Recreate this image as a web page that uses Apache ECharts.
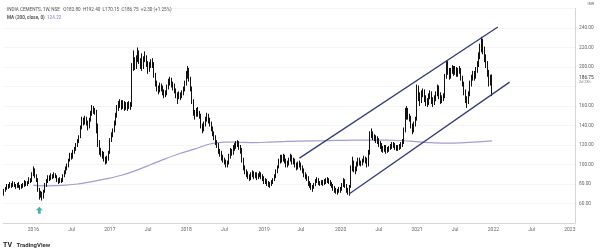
<!DOCTYPE html>
<html><head><meta charset="utf-8">
<script src="https://cdn.jsdelivr.net/npm/echarts@6/dist/echarts.min.js"></script>
<style>html,body{margin:0;padding:0;background:#fff}#c{width:602px;height:250px}</style>
</head><body><div id="c"></div>
<script>
// weekly candles [open, close, low, high], first week starts Monday 2015-08-17
const startMonday = '2015-08-17';
const totalWeeks = 389; // axis runs on past the last candle (right margin)
const xTickLabels = ['2016','Jul','2017','Jul','2018','Jul','2019','Jul','2020','Jul','2021','Jul','2022','Jul','2023'];

const w2015 = [
[70,73,68,75],[73,75,72,77],[75,78,74,80],[78,77,75,80],[77,80,76,82],
[80,78,76,81],[78,81,77,83],[81,79,77,82],[79,77,75,80],[77,80,76,81],
[80,78,76,82],[78,76,74,79],[76,79,75,80],[79,78,76,81],[78,82,77,84],
[82,79,78,83],[79,81,78,83],[81,85,80,87],[85,83,81,86],[83,90,82,92]
];
const w2016 = [
[90,95,88,98],[95,88,86,96],[88,85,82,90],[85,74,72,86],[74,68,64,76],
[68,71,66,73],[71,66,63,72],[66,72,65,74],[72,79,71,81],[79,83,77,85],
[83,87,81,89],[87,85,83,89],[85,89,84,91],[89,87,85,90],[87,90,86,92],
[90,88,86,91],[88,84,82,89],[84,82,80,86],[82,85,81,87],[85,83,81,86],
[83,88,82,90],[88,92,87,94],[92,96,90,98],[96,99,94,101],[99,104,97,106],
[104,110,103,112],[110,107,105,112],[107,113,106,115],[113,116,111,118],[116,120,114,122],
[120,124,118,126],[124,128,122,130],[128,138,127,140],[138,146,136,149],[146,142,140,148],
[142,148,141,150],[148,143,140,149],[143,138,135,145],[138,146,137,148],[146,152,144,155],
[152,158,150,161],[158,155,152,160],[155,154,151,158],[154,140,132,156],[140,122,118,142],
[122,115,110,125],[115,112,108,117],[112,110,106,114],[110,106,103,113],[106,104,100,108],
[104,105,101,109],[105,112,104,114]
];
const w2017 = [
[112,125,111,127],[125,130,123,133],[130,135,128,137],[135,142,133,145],[142,150,140,153],
[150,158,148,161],[158,162,155,165],[162,164,158,167],[164,160,156,166],[160,163,157,166],
[163,158,155,165],[158,162,156,164],[162,159,155,164],[159,161,157,165],[161,160,156,164],
[160,200,159,204],[200,207,196,217],[207,200,197,210],[200,208,198,212],[208,214,205,220],
[214,206,203,217],[206,202,198,209],[202,200,196,214],[200,207,198,211],[207,210,205,216],
[210,203,200,212],[203,197,193,206],[197,201,195,205],[201,205,199,208],[205,203,199,209],
[203,192,189,205],[192,183,180,194],[183,178,175,186],[178,176,172,181],[176,181,174,184],
[181,178,175,183],[178,175,171,181],[175,172,168,177],[172,173,169,176],[173,180,171,182],
[180,184,177,188],[184,186,181,190],[186,182,179,189],[182,180,176,185],[180,176,173,183],
[176,171,168,178],[171,169,162,174],[169,172,167,175],[172,170,166,174],[170,173,168,176],
[173,176,171,180],[176,183,175,186]
];
const w2018 = [
[183,192,181,196],[192,197,188,201],[197,188,185,199],[188,178,175,190],[178,165,162,180],
[165,153,150,167],[153,150,146,156],[150,156,149,158],[156,152,149,159],[152,150,147,155],
[150,140,137,152],[140,135,132,142],[135,141,134,144],[141,146,139,149],[146,150,144,153],
[150,145,142,152],[145,142,139,148],[142,137,134,144],[137,132,129,139],[132,128,125,134],
[128,123,120,130],[123,120,117,125],[120,114,111,122],[114,112,108,116],[112,108,104,114],
[108,105,102,110],[105,103,100,107],[103,100,97,105],[100,101,97,104],[101,108,100,111],
[108,114,106,117],[114,112,109,116],[112,117,110,120],[117,119,114,122],[119,121,116,124],
[121,123,118,125],[123,118,115,124],[118,115,111,120],[115,105,102,117],[105,97,94,107],
[97,93,90,99],[93,91,87,95],[91,88,85,93],[88,86,83,90],[86,89,84,92],
[89,92,87,94],[92,88,85,93],[88,90,86,92],[90,87,84,92],[87,89,85,91],
[89,91,87,93],[91,88,85,92]
];
const w2019 = [
[88,86,83,90],[86,83,80,88],[83,84,80,86],[84,81,78,85],[81,80,77,83],
[80,79,76,82],[79,82,78,84],[82,84,80,86],[84,88,83,90],[88,93,86,95],
[93,97,91,99],[97,103,96,106],[103,108,101,110],[108,105,102,110],[105,108,103,111],
[108,104,101,110],[104,100,97,106],[100,101,97,104],[101,105,99,107],[105,108,103,111],
[108,103,100,110],[103,104,100,107],[104,100,97,106],[100,97,94,102],[97,101,95,103],
[101,100,97,104],[100,97,94,102],[97,94,91,99],[94,90,87,96],[90,88,85,92],
[88,86,83,90],[86,81,78,88],[81,79,76,83],[79,77,74,81],[77,76,72,79],
[76,79,75,81],[79,83,78,85],[83,84,81,87],[84,81,79,86],[81,80,78,83],
[80,82,79,84],[82,81,78,84],[81,83,79,85],[83,82,80,86],[82,84,81,87],
[84,82,80,86],[82,80,78,84],[80,78,76,82],[78,76,73,80],[76,74,71,78],
[74,73,70,76],[73,72,69,75],[72,75,71,77]
];
const w2020 = [
[75,74,71,77],[74,79,73,81],[79,84,77,86],[84,79,76,85],[79,74,71,80],
[74,72,69,76],[72,77,68,79],[77,96,76,99],[96,101,93,108],[101,95,92,104],
[95,94,90,98],[94,100,93,103],[100,105,98,107],[105,102,99,107],[102,101,98,104],
[101,104,99,106],[104,106,102,109],[106,105,101,108],[105,99,97,107],[99,112,98,115],
[112,132,110,134],[132,131,127,137],[131,128,125,134],[128,127,124,131],[127,126,122,130],
[126,125,121,129],[125,121,118,127],[121,120,116,124],[120,116,113,122],[116,115,112,119],
[115,118,113,120],[118,114,111,120],[114,115,112,118],[115,117,113,119],[117,118,115,121],
[118,121,116,123],[121,120,117,123],[120,117,115,122],[117,118,114,120],[118,117,114,120],
[117,118,115,121],[118,120,116,123],[120,122,118,126],[122,135,121,138],[135,150,133,158],
[150,156,146,160],[156,149,146,158],[149,148,144,152],[148,140,137,150],[140,135,131,142],
[135,141,133,144],[141,146,139,149]
];
const w2021 = [
[146,178,145,182],[178,170,165,181],[170,166,160,174],[166,173,163,176],[173,175,169,178],
[175,168,164,177],[168,164,160,171],[164,163,159,168],[163,170,161,173],[170,173,167,176],
[173,166,162,175],[166,163,159,169],[163,168,161,171],[168,172,165,175],[172,179,170,182],
[179,171,167,181],[171,166,162,174],[166,167,163,171],[167,170,165,173],[170,190,168,193],
[190,203,188,207],[203,195,192,206],[195,190,187,199],[190,196,188,199],[196,199,193,202],
[199,195,191,201],[195,198,192,201],[198,193,190,200],[193,196,190,199],[196,197,193,201],
[197,189,186,199],[189,183,180,191],[183,175,171,185],[175,168,163,177],[168,164,158,170],
[164,172,162,175],[172,183,170,186],[183,189,180,192],[189,193,186,196],[193,190,186,196],
[190,197,188,200],[197,203,194,206],[203,212,200,215],[212,220,208,224],[220,226,215,231],
[226,218,213,229],[218,210,205,221],[210,203,199,213],[203,194,190,206],[194,187,180,197],
[187,184.45,181,192],[182.8,186.75,170.15,192.4]
];

// 200-week moving average: [week index, value]
const maPoints = [
[20,78.5],[30,78],[40,78.5],[50,80],[60,82.5],[70,85.5],[80,89],[90,94],[100,100],
[110,106],[120,111.5],[130,116],[140,121],[150,123],[160,122.8],[170,122.5],[180,123],
[190,123.5],[200,124],[220,124.5],[240,125],[260,125],[270,124.6],[280,123.5],[290,122.5],
[300,122],[310,122.2],[320,123],[332,124.2]
];
// drawn trend channel: [week index, value]
const channelUpper = [[201,106.5],[336,241]];
const channelLower = [[235,70],[344,184.5]];
// buy signal arrow
const signalPoints = [[24,53]];
const lastPrice = 186.75;
const maLast = '124.22';

const candles = [].concat(w2015, w2016, w2017, w2018, w2019, w2020, w2021);

// weekly categories
const categories = [];
const start = new Date(startMonday + 'T00:00:00Z');
for (let i = 0; i < totalWeeks; i++) {
  const d = new Date(start.getTime() + i * 7 * 86400000);
  categories.push(d.toISOString().slice(0, 10));
}
const tickAt = {};
let k = 0;
for (let i = 1; i < categories.length && k < xTickLabels.length; i++) {
  const m = categories[i].slice(5, 7), pm = categories[i - 1].slice(5, 7);
  if (m !== pm && (m === '01' || m === '07')) { tickAt[i] = xTickLabels[k++]; }
}

const chart = echarts.init(document.getElementById('c'), null, {renderer: 'canvas'});
const font = 'Roboto, "Liberation Sans", sans-serif';
chart.setOption({
  animation: false,
  backgroundColor: '#fff',
  title: [
    {left: 2, top: 2, text: 'INDIA CEMENTS, 1W, NSE   O182.80  H192.40  L170.15  C186.75  +2.30 (+1.25%)',
     textStyle: {fontSize: 4.6, fontWeight: 'normal', color: '#555', fontFamily: font}},
    {left: 2, top: 10, text: '{a|MA (200, close, 0)}  {b|' + maLast + '}',
     textStyle: {fontSize: 4.6, fontFamily: font, rich: {a: {fontSize: 4.6, color: '#555'}, b: {fontSize: 4.6, color: '#a49cd4'}}}},
    {left: 3, top: 236, padding: 0, text: '{l|TV} {t|TradingView}',
     textStyle: {fontFamily: font, rich: {l: {fontSize: 7, fontWeight: 'bold', color: '#222'}, t: {fontSize: 6, color: '#333'}}}}
  ],
  grid: {left: 3.3, right: 27, top: 8.5, bottom: 27},
  xAxis: {
    type: 'category', data: categories, boundaryGap: true,
    axisLine: {lineStyle: {color: '#d6d6d6', width: 1}},
    axisTick: {show: false},
    splitLine: {show: false},
    axisLabel: {
      interval: (idx) => tickAt[idx] !== undefined,
      formatter: (v, idx) => tickAt[idx] || '',
      fontSize: 5, color: '#666', margin: 4, fontFamily: font
    }
  },
  yAxis: {
    type: 'value', position: 'right', min: 40, max: 260, interval: 20,
    axisLine: {show: true, lineStyle: {color: '#d6d6d6'}},
    axisTick: {show: false},
    splitLine: {show: true, lineStyle: {color: '#f5f5f5'}},
    axisLabel: {
      fontSize: 4.8, color: '#666', margin: 4, fontFamily: font,
      formatter: (v) => (v === 40 || v === 260 || v === 180) ? '' : v.toFixed(2)
    }
  },
  graphic: [
    {type: 'rect', right: 0, bottom: 10, shape: {width: 26, height: 14}, style: {fill: '#fff'}, z: 100},
    {type: 'text', right: 8, top: 2, style: {text: 'INR', fill: '#666', font: '4px Roboto'}, z: 100}
  ],
  series: [
    {
      type: 'candlestick', data: candles, barMaxWidth: 2,
      itemStyle: {color: '#111', color0: '#111', borderColor: '#111', borderColor0: '#111', borderWidth: 1},
      markLine: {
        symbol: 'none', silent: true,
        lineStyle: {color: 'rgba(0,0,0,0)', width: 0},
        label: {show: true, position: 'end', distance: 4, formatter: '{p|186.75}\n{s|2d 23h}',
                rich: {p: {fontSize: 4.8, color: '#333', fontFamily: font}, s: {fontSize: 3.8, color: '#777', fontFamily: font}}},
        data: [{yAxis: lastPrice}]
      }
    },
    {type: 'line', data: maPoints, smooth: 0.3, symbol: 'none', lineStyle: {color: '#a49cd4', width: 1.2}, z: 1},
    {type: 'line', data: channelUpper, symbol: 'none', lineStyle: {color: '#323d7a', width: 1.3}, z: 3},
    {type: 'line', data: channelLower, symbol: 'none', lineStyle: {color: '#323d7a', width: 1.3}, z: 3},
    {type: 'scatter', data: signalPoints, symbol: 'path://M5,0 L10,5 L7,5 L7,10 L3,10 L3,5 L0,5 Z',
     symbolSize: [7, 7], itemStyle: {color: '#1f9e89'}, z: 4}
  ]
});
</script></body></html>
